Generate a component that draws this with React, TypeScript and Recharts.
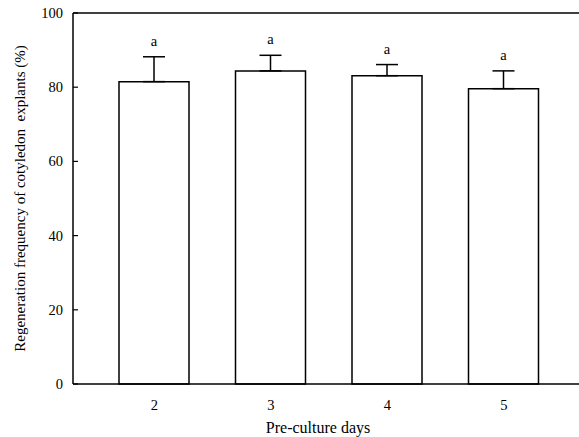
import React from 'react';
import {
  BarChart,
  Bar,
  XAxis,
  YAxis,
  ErrorBar,
  LabelList
} from 'recharts';

const days = ['2', '3', '4', '5'];
const regeneration = [81.5, 84.4, 83.1, 79.6];
const sdUpper = [6.7, 4.2, 3.0, 4.8];
const letters = ['a', 'a', 'a', 'a'];
const yTicks = [0, 20, 40, 60, 80, 100];

const data = days.map((d, i) => ({
  day: d,
  value: regeneration[i],
  err: [0, sdUpper[i]],
  letter: letters[i]
}));

const FONT = '"Liberation Serif", "Times New Roman", serif';
const TOP = 12;
const PLOT_H = 371;

const YTick = (props: any) => {
  const { x, y, payload } = props;
  return (
    <g>
      <line x1={x + 10} x2={x + 15} y1={y} y2={y} stroke="#000" strokeWidth={1.2} />
      <text x={x} y={y} dy={5} textAnchor="end" fontFamily={FONT} fontSize={14.5} fill="#000">
        {payload.value}
      </text>
    </g>
  );
};

const LetterLabel = (props: any) => {
  const { x, y, width, index, value } = props;
  const errPx = (sdUpper[index] / 100) * PLOT_H;
  return (
    <text
      x={x + width / 2}
      y={y - errPx - 11}
      textAnchor="middle"
      fontFamily={FONT}
      fontSize={14.5}
      fill="#000"
    >
      {value}
    </text>
  );
};

export default function App() {
  return (
    <div style={{ position: 'absolute', left: 0, top: 0, background: '#fff' }}>
      <BarChart
        width={579}
        height={437}
        data={data}
        margin={{ top: TOP, right: 0, bottom: 0, left: 0 }}
      >
        <XAxis
          dataKey="day"
          height={53}
          padding={{ left: 23, right: 17 }}
          axisLine={{ stroke: '#000', strokeWidth: 1.5 }}
          tickLine={false}
          tickMargin={10}
          tick={{ fontFamily: FONT, fontSize: 14.5, fill: '#000' }}
          label={{
            value: 'Pre-culture days',
            position: 'insideBottom',
            offset: 4,
            dx: -8,
            style: { fontFamily: FONT, fontSize: 16, fill: '#000' }
          }}
        />
        <XAxis
          xAxisId="top"
          dataKey="day"
          orientation="top"
          height={1}
          padding={{ left: 23, right: 17 }}
          axisLine={{ stroke: '#000', strokeWidth: 1.5 }}
          tickLine={false}
          tick={false}
        />
        <YAxis
          domain={[0, 100]}
          ticks={yTicks}
          width={73}
          axisLine={{ stroke: '#000', strokeWidth: 1.5 }}
          tickLine={false}
          tickSize={0}
          tickMargin={10}
          tick={<YTick />}
          label={{
            value: 'Regeneration frequency of cotyledon\u00a0 explants (%)',
            angle: -90,
            position: 'insideLeft',
            offset: 20,
            dy: 0,
            style: { fontFamily: FONT, fontSize: 15, fill: '#000', textAnchor: 'middle' }
          }}
        />
        <Bar
          dataKey="value"
          barSize={70}
          fill="#fff"
          stroke="#000"
          strokeWidth={1.5}
          isAnimationActive={false}
        >
          <ErrorBar dataKey="err" direction="y" width={11} stroke="#000" strokeWidth={1.5} />
          <LabelList dataKey="letter" content={<LetterLabel />} />
        </Bar>
      </BarChart>
    </div>
  );
}
